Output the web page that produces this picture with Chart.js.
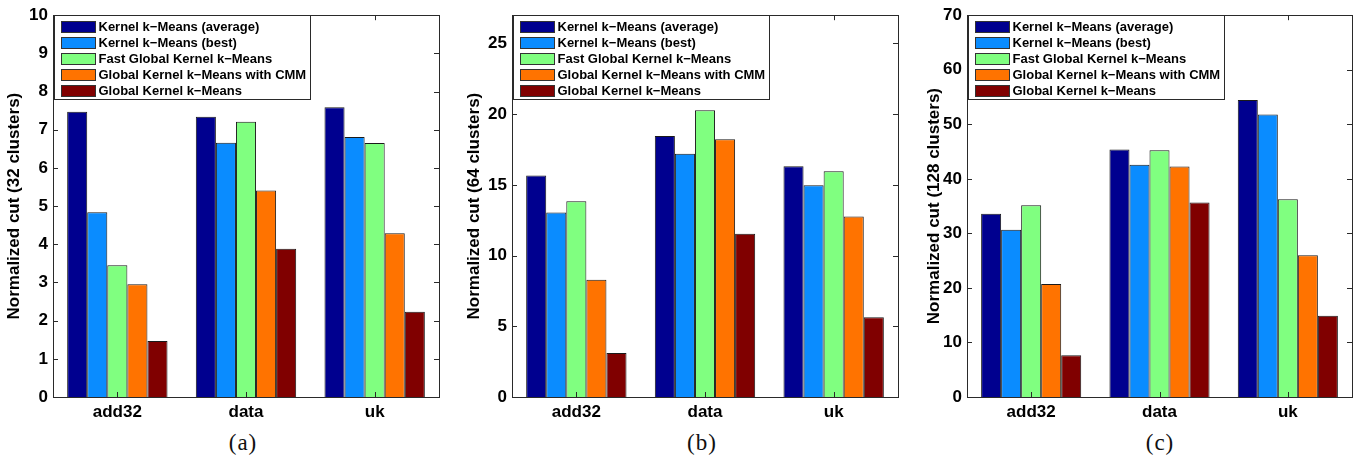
<!DOCTYPE html>
<html>
<head>
<meta charset="utf-8">
<script src="https://cdn.jsdelivr.net/npm/chart.js@4.4.1/dist/chart.umd.min.js"></script>
<style>
  body { margin: 0; background: #fff; width: 1361px; height: 460px; position: relative; overflow: hidden; }
  .panel { position: absolute; top: 0; }
  .caption { position: absolute; top: 430px; font: 23px "Liberation Serif", "DejaVu Serif", serif; letter-spacing: 1px; color: #111; transform: translateX(-50%); }
</style>
</head>
<body>
<div class="panel" style="left:0px"><canvas id="chartA" width="450" height="427"></canvas></div>
<div class="panel" style="left:460px"><canvas id="chartB" width="450" height="427"></canvas></div>
<div class="panel" style="left:920px"><canvas id="chartC" width="441" height="427"></canvas></div>
<div class="caption" style="left:243px">(a)</div>
<div class="caption" style="left:702px">(b)</div>
<div class="caption" style="left:1160px">(c)</div>

<script>
'use strict';

// -------------------- data --------------------
const categories = ['add32', 'data', 'uk'];
const seriesLabels = [
  'Kernel k\u2212Means (average)',
  'Kernel k\u2212Means (best)',
  'Fast Global Kernel k\u2212Means',
  'Global Kernel k\u2212Means with CMM',
  'Global Kernel k\u2212Means'
];
const seriesColors = ['#00008F', '#0A8CFF', '#80FF80', '#FF7300', '#800000'];

// (a) 32 clusters
const avg32 = [7.47, 7.34, 7.59];
const best32 = [4.84, 6.66, 6.81];
const fast32 = [3.45, 7.21, 6.65];
const cmm32 = [2.95, 5.41, 4.29];
const global32 = [1.47, 3.88, 2.23];
const ticks32 = [0, 1, 2, 3, 4, 5, 6, 7, 8, 9, 10];

// (b) 64 clusters
const avg64 = [15.67, 18.46, 16.32];
const best64 = [13.05, 17.2, 14.97];
const fast64 = [13.85, 20.28, 15.97];
const cmm64 = [8.3, 18.23, 12.77];
const global64 = [3.12, 11.54, 5.64];
const ticks64 = [0, 5, 10, 15, 20, 25];

// (c) 128 clusters
const avg128 = [33.6, 45.36, 54.46];
const best128 = [30.66, 42.6, 51.79];
const fast128 = [35.15, 45.23, 36.25];
const cmm128 = [20.7, 42.26, 25.99];
const global128 = [7.65, 35.64, 14.88];
const ticks128 = [0, 10, 20, 30, 40, 50, 60, 70];

// -------------------- plugins --------------------
// MATLAB風の枠と内向きの目盛り
const frame = {
  id: 'frame',
  afterDatasetsDraw(chart) {
    const {ctx, chartArea: a, scales: {x, y}} = chart;
    ctx.save();
    ctx.strokeStyle = '#2a2a2a';
    ctx.lineWidth = 1;
    ctx.strokeRect(Math.round(a.left) + 0.5, Math.round(a.top) + 0.5,
      Math.round(a.right - a.left), Math.round(a.bottom - a.top));
    ctx.beginPath();
    y.ticks.forEach(t => {
      const py = Math.round(y.getPixelForValue(t.value)) + 0.5;
      ctx.moveTo(a.left, py); ctx.lineTo(a.left + 5, py);
      ctx.moveTo(a.right, py); ctx.lineTo(a.right - 5, py);
    });
    x.ticks.forEach((t, i) => {
      const px = Math.round(x.getPixelForValue(i)) + 0.5;
      ctx.moveTo(px, a.top); ctx.lineTo(px, a.top + 5);
      ctx.moveTo(px, a.bottom); ctx.lineTo(px, a.bottom - 5);
    });
    ctx.stroke();
    ctx.restore();
  }
};

// 凡例はプロット内左上に箱で描く
const boxLegend = {
  id: 'boxLegend',
  afterDraw(chart) {
    const {ctx, chartArea: a} = chart;
    const left = Math.round(a.left) + 1.5;
    const top = Math.round(a.top) + 0.5;
    ctx.save();
    ctx.fillStyle = '#fff';
    ctx.strokeStyle = '#2a2a2a';
    ctx.lineWidth = 1;
    ctx.fillRect(left, top, 256, 84);
    ctx.strokeRect(left, top, 256, 84);
    ctx.font = 'bold 13px "Liberation Sans", Arial, sans-serif';
    ctx.textBaseline = 'middle';
    chart.data.datasets.forEach((ds, i) => {
      const cy = top + 10.5 + i * 16.1;
      ctx.fillStyle = ds.backgroundColor;
      ctx.fillRect(left + 7, Math.round(cy - 5.5) + 0.5, 34, 11);
      ctx.strokeStyle = '#333';
      ctx.strokeRect(left + 7, Math.round(cy - 5.5) + 0.5, 34, 11);
      ctx.fillStyle = '#000';
      ctx.fillText(ds.label, left + 44, cy + 1);
    });
    ctx.restore();
  }
};

// -------------------- Chart.js --------------------
function makeChart(id, values, yMax, yTicks, yTitle, yWidth, padRight) {
  const ctx = document.getElementById(id).getContext('2d');
  return new Chart(ctx, {
    type: 'bar',
    data: {
      labels: categories,
      datasets: values.map((v, i) => ({
        label: seriesLabels[i],
        data: v,
        backgroundColor: seriesColors[i],
        borderColor: '#1a1a1a',
        borderWidth: 1,
        borderSkipped: 'bottom',
        barPercentage: 1,
        categoryPercentage: 0.78,
      }))
    },
    options: {
      responsive: false,
      animation: false,
      devicePixelRatio: 1,
      layout: { padding: { top: 12, right: padRight, left: 0, bottom: 0 } },
      plugins: {
        legend: { display: false },
        tooltip: { enabled: false },
      },
      scales: {
        x: {
          grid: { display: false, drawTicks: false },
          border: { display: false },
          ticks: {
            padding: 5,
            color: '#000',
            font: { family: '"Liberation Sans", Arial, sans-serif', size: 17, weight: 'bold' },
          },
          afterFit: s => { s.height = 30; },
        },
        y: {
          min: 0,
          max: yMax,
          grid: { display: false, drawTicks: false },
          border: { display: false },
          afterBuildTicks: s => { s.ticks = yTicks.map(v => ({ value: v })); },
          ticks: {
            padding: 5,
            color: '#000',
            font: { family: '"Liberation Sans", Arial, sans-serif', size: 17, weight: 'bold' },
          },
          title: {
            display: true,
            text: yTitle,
            color: '#000',
            padding: { top: 4, bottom: 4 },
            font: { family: '"Liberation Sans", Arial, sans-serif', size: 17, weight: 'bold' },
          },
          afterFit: s => { s.width = yWidth; },
        }
      }
    },
    plugins: [frame, boxLegend]
  });
}

makeChart('chartA', [avg32, best32, fast32, cmm32, global32], 10, ticks32,
  'Normalized cut (32 clusters)', 53, 11);
makeChart('chartB', [avg64, best64, fast64, cmm64, global64], 27, ticks64,
  'Normalized cut (64 clusters)', 52, 12);
makeChart('chartC', [avg128, best128, fast128, cmm128, global128], 70, ticks128,
  'Normalized cut (128 clusters)', 47, 9);
</script>
</body>
</html>
